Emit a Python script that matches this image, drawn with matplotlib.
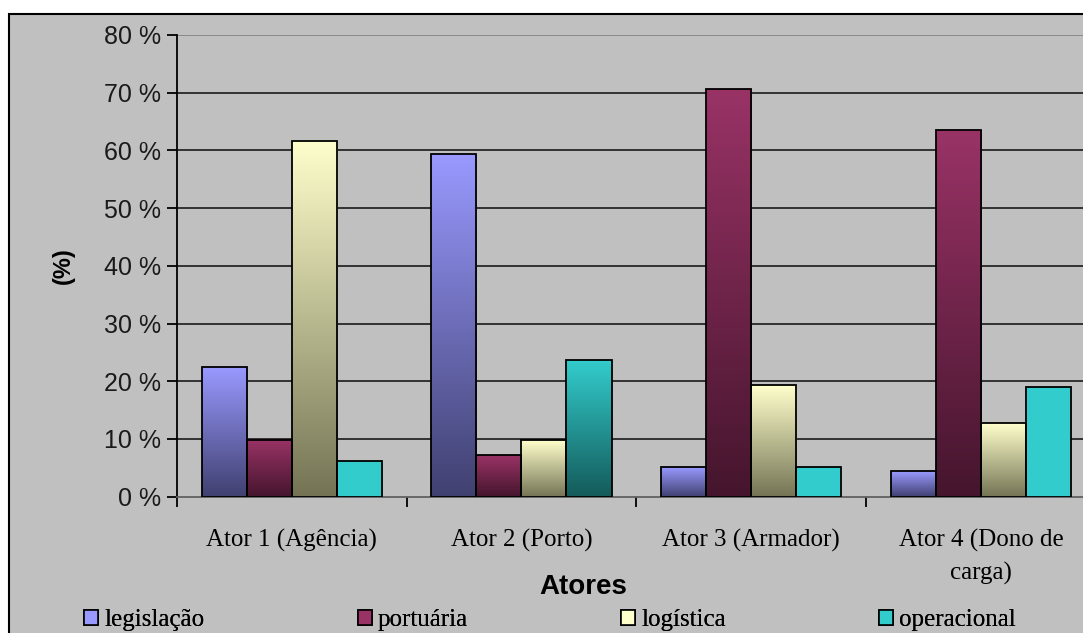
import numpy as np
import matplotlib
matplotlib.use('Agg')
import matplotlib.pyplot as plt
from matplotlib.colors import LinearSegmentedColormap
from matplotlib.patches import Rectangle

# data
atores = ['Ator 1 (Agência)', 'Ator 2 (Porto)', 'Ator 3 (Armador)', 'Ator 4 (Dono de\ncarga)']
series = ['legislação', 'portuária', 'logística', 'operacional']
legislacao = [22.4, 59.3, 5.1, 4.4]
portuaria = [9.9, 7.2, 70.6, 63.5]
logistica = [61.7, 9.8, 19.4, 12.7]
operacional = [6.1, 23.6, 5.1, 19.0]
yticks = [0, 10, 20, 30, 40, 50, 60, 70, 80]

values = [legislacao, portuaria, logistica, operacional]
top_cols = ['#9999ff', '#993366', '#ffffcc', '#33cccc']
bot_cols = ['#404070', '#45152d', '#747455', '#145a5a']
# excel left some of the cyan bars flat
flat = [[False] * 4, [False] * 4, [False] * 4, [True, False, True, True]]

fig = plt.figure(figsize=(10.83, 6.33), dpi=100)
fig.patch.set_facecolor('white')

# chart area frame (cut off at right / bottom like the screenshot)
fig.patches.append(Rectangle((9 / 1083, -0.05), 1.1, 1 - 14 / 633 + 0.05,
                             transform=fig.transFigure, facecolor='#c0c0c0',
                             edgecolor='black', lw=1.5, zorder=-5))

ax = fig.add_axes([176.7 / 1083, 136.3 / 633, 919.3 / 1083, 461.7 / 633])
ax.set_facecolor('#c0c0c0')

bw = 0.196
grad = np.linspace(0, 1, 256).reshape(-1, 1)
for s in range(4):
    cmap = LinearSegmentedColormap.from_list('g%d' % s, [bot_cols[s], top_cols[s]])
    for i in range(4):
        x0 = i + 0.5 - 2 * bw + s * bw
        h = values[s][i]
        if flat[s][i]:
            ax.add_patch(Rectangle((x0, 0), bw, h, facecolor=top_cols[s], edgecolor='none', zorder=3))
        else:
            ax.imshow(grad, extent=(x0, x0 + bw, 0, h), origin='lower', cmap=cmap,
                      aspect='auto', zorder=3, interpolation='bilinear')
        ax.add_patch(Rectangle((x0, 0), bw, h, facecolor='none', edgecolor='black', lw=1.3, zorder=4))
ax.set_xlim(0, 4)
ax.set_ylim(0, 80)

for y in yticks[1:]:
    ax.axhline(y, color='#808080' if y == 80 else '#1a1a1a', lw=1.2, zorder=1)

for sp in ['top', 'right']:
    ax.spines[sp].set_visible(False)
ax.spines['left'].set_linewidth(1.3)
ax.spines['bottom'].set_linewidth(1.3)
ax.spines['bottom'].set_color('#606060')

ax.set_yticks(yticks)
ax.set_yticklabels(['%d %%' % v for v in yticks], fontsize=18, family='Liberation Sans', color='#1a1a1a')
ax.tick_params(axis='y', direction='out', length=7, width=1.3, pad=4)

ax.set_xticks([0.5, 1.5, 2.5, 3.5])
ax.set_xticklabels(atores, fontsize=18, family='Liberation Serif', linespacing=1.6, va='top')
ax.set_xticks([0, 1, 2, 3, 4], minor=True)
ax.tick_params(axis='x', which='major', length=0, pad=23)
ax.tick_params(axis='x', which='minor', direction='out', length=7, width=1.3)

fig.text(583 / 1083, 1 - 587 / 633, 'Atores', fontsize=20, fontweight='bold',
         family='Liberation Sans', ha='center', va='center')
fig.text(63 / 1083, 1 - 266 / 633, '(%)', fontsize=17, fontweight='bold',
         family='Liberation Sans', ha='center', va='center', rotation=90)

# one legend per entry so the columns sit where excel put them
leg_x = [84, 358, 621, 879]
for s in range(4):
    h = Rectangle((0, 0), 1, 1, facecolor=top_cols[s], edgecolor='black', lw=1.2)
    fig.add_artist(fig.legend([h], [series[s]], loc='center left',
                              bbox_to_anchor=(leg_x[s] / 1083, 1 - 620 / 633),
                              frameon=False, prop={'family': 'Liberation Serif', 'size': 18},
                              handlelength=0.55, handleheight=0.55, handletextpad=0.25,
                              borderpad=0, borderaxespad=0))

fig.savefig('out.png', dpi=100, facecolor=fig.get_facecolor())
